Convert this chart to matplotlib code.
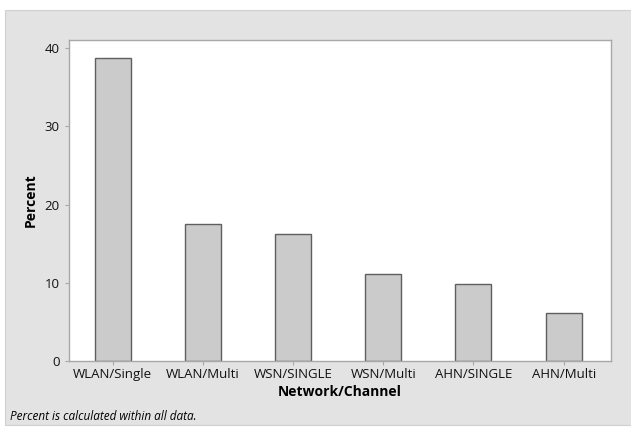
import matplotlib.pyplot as plt
from matplotlib.patches import Rectangle

# data
categories = ['WLAN/Single', 'WLAN/Multi', 'WSN/SINGLE', 'WSN/Multi', 'AHN/SINGLE', 'AHN/Multi']
percent = [38.7, 17.5, 16.2, 11.1, 9.9, 6.2]
y_ticks = [0, 10, 20, 30, 40]

plt.rcParams['font.family'] = ['Open Sans', 'DejaVu Sans']

W, H = 631, 428
fig = plt.figure(figsize=(W / 100, H / 100), dpi=100)
fig.patch.set_facecolor('white')

# gray panel behind the chart
fig.patches.append(Rectangle((5 / W, 3 / H), 1, (H - 13) / H,
                             transform=fig.transFigure, facecolor='#e3e3e3',
                             edgecolor='#d0d0d0', linewidth=0.8, zorder=-5))

ax = fig.add_axes([68.5 / W, 1 - 361 / H, (610.5 - 68.5) / W, (361 - 40) / H])
ax.set_facecolor('white')

x = list(range(len(categories)))
ax.bar(x, percent, width=0.4, color='#cbcbcb', edgecolor='#5f5f5f', linewidth=1.0, zorder=2)

ax.set_xlim(-0.49, 5.52)
ax.set_ylim(0, 41.06)
ax.set_yticks(y_ticks)
ax.set_xticks(x)
ax.set_xticklabels(categories)

for s in ax.spines.values():
    s.set_color('#a8a8a8')
    s.set_linewidth(1.0)

ax.tick_params(axis='both', colors='#a8a8a8', labelcolor='#111111', labelsize=9.5, length=3)
ax.tick_params(axis='x', pad=2)

ax.set_xlabel('Network/Channel', fontsize=10, fontweight='bold', labelpad=3)
ax.set_ylabel('Percent', fontsize=10, fontweight='bold', labelpad=5)

fig.text(10 / W, 1 - 416 / H, 'Percent is calculated within all data.',
         fontsize=8.5, style='italic', va='center', ha='left')

fig.savefig('out.png', dpi=100, facecolor=fig.get_facecolor())
